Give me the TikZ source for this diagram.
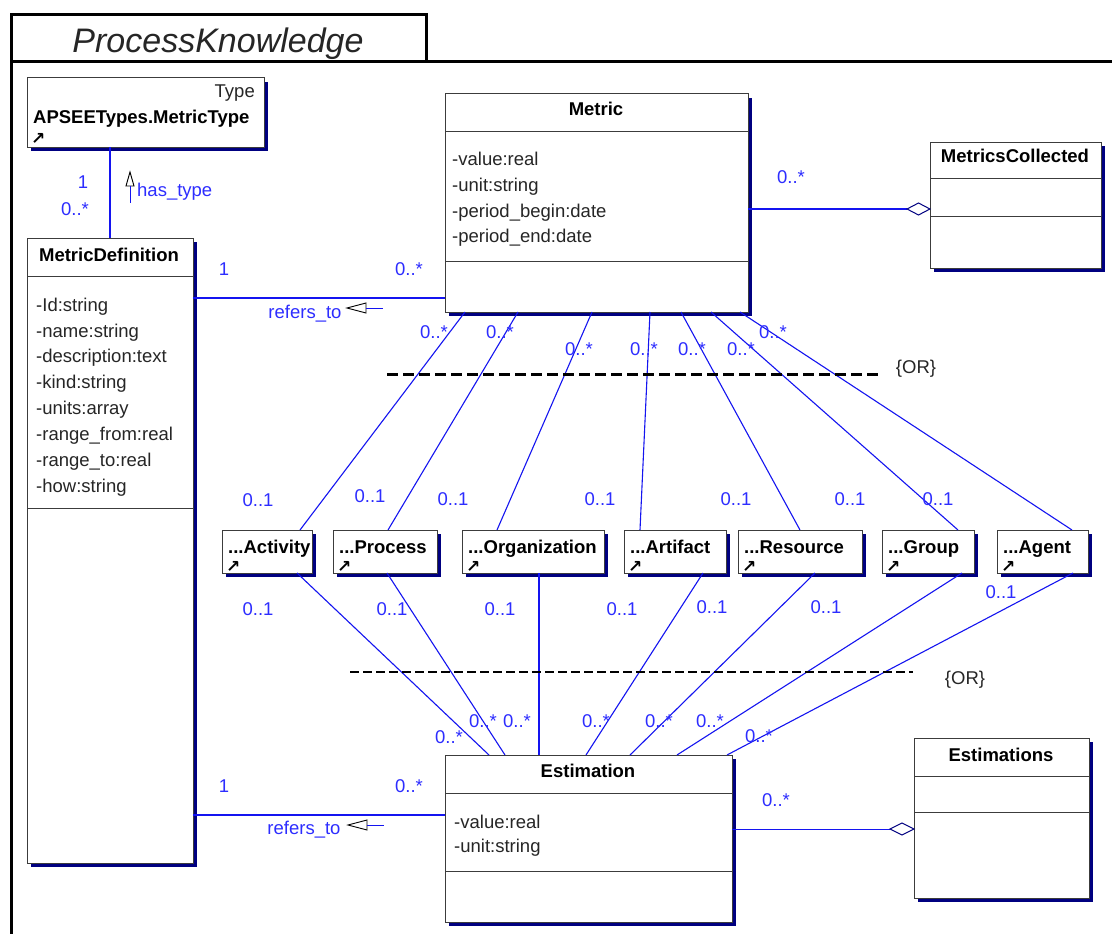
\documentclass[tikz,border=0pt]{standalone}
\usepackage{fontspec}
\setmainfont{Liberation Sans}
\newfontfamily\symfont{DejaVu Sans}
\usetikzlibrary{shadows}
\definecolor{lnblue}{RGB}{20,20,240}
\definecolor{lblblue}{RGB}{45,45,255}
\definecolor{shadownavy}{RGB}{0,0,128}
\definecolor{boxgray}{RGB}{60,60,60}
\begin{document}
\begin{tikzpicture}[x=1pt,y=-1pt,
  umlbox/.style={draw=boxgray, line width=1pt, fill=white, inner sep=0pt, outer sep=0pt, anchor=north west,
    general shadow={fill=shadownavy, shadow xshift=4pt, shadow yshift=-4pt}},
  sep/.style={draw=boxgray, line width=1pt},
  ttl/.style={font=\fontsize{18.5}{22}\selectfont\bfseries, inner sep=0pt, anchor=base},
  attr/.style={font=\fontsize{18.5}{22}\selectfont, inner sep=0pt, anchor=base west, text=black!85},
  lbl/.style={font=\fontsize{18.5}{22}\selectfont, inner sep=0pt, anchor=base, text=lblblue},
  assoc/.style={draw=lnblue, line width=1.3pt},
  link/.style={draw=lnblue, line width=1.1pt},
  scut/.style={font=\symfont\bfseries\fontsize{17}{17}\selectfont, inner sep=0pt, anchor=base west},
  dirtri/.style={draw=black, line width=0.9pt, fill=white},
  aggd/.style={draw=shadownavy, line width=1pt, fill=white}
]
\useasboundingbox (0,0) rectangle (1112,934);
\fill[white] (0,0) rectangle (1112,934);

% package frame
\draw[line width=3pt] (11,934) -- (11,15) -- (426,15) -- (426,62);
\draw[line width=3pt] (11,62) -- (1112,62);
\node[font=\fontsize{34}{40}\selectfont\itshape, inner sep=0pt, anchor=base, text=black!85] (pkg) at (218,53) {ProcessKnowledge};

% Type box
\node[umlbox, minimum width=237, minimum height=69] (type) at (27,78) {};
\node[attr, anchor=base east] (typest) at (255,98) {Type};
\node[ttl, anchor=base west] (typenm) at (33,124) {APSEETypes.MetricType};
\node[scut] (typesc) at (31,144) {↗};

% MetricDefinition
\node[umlbox, minimum width=166, minimum height=625] (mdef) at (27,238) {};
\draw[sep] (mdef.west |- 0,276) -- (mdef.east |- 0,276);
\draw[sep] (mdef.west |- 0,508) -- (mdef.east |- 0,508);
\node[ttl] (mdeft) at (109,261) {MetricDefinition};
\foreach \i/\y/\t in {1/311/-Id:string, 2/337/-name:string, 3/362/-description:text, 4/388/-kind:string,
  5/414/-units:array, 6/440/-range\_from:real, 7/466/-range\_to:real, 8/492/-how:string}
  \node[attr] (mda\i) at (36,\y) {\t};

% Metric
\node[umlbox, minimum width=303, minimum height=218] (metric) at (445,94) {};
\draw[sep] (metric.west |- 0,131) -- (metric.east |- 0,131);
\draw[sep] (metric.west |- 0,261) -- (metric.east |- 0,261);
\node[ttl] (metrict) at (596,115) {Metric};
\foreach \i/\y/\t in {1/165/-value:real, 2/191/-unit:string, 3/217/-period\_begin:date, 4/242/-period\_end:date}
  \node[attr] (ma\i) at (452,\y) {\t};

% MetricsCollected
\node[umlbox, minimum width=171, minimum height=126] (mc) at (930,142) {};
\draw[sep] (mc.west |- 0,178) -- (mc.east |- 0,178);
\draw[sep] (mc.west |- 0,216) -- (mc.east |- 0,216);
\node[ttl] (mct) at (1015,162) {MetricsCollected};

% Estimation
\node[umlbox, minimum width=287, minimum height=167] (est) at (445,755) {};
\draw[sep] (est.west |- 0,793) -- (est.east |- 0,793);
\draw[sep] (est.west |- 0,871) -- (est.east |- 0,871);
\node[ttl] (estt) at (588,777) {Estimation};
\node[attr] (esa1) at (454,828) {-value:real};
\node[attr] (esa2) at (454,852) {-unit:string};

% Estimations
\node[umlbox, minimum width=175, minimum height=160] (ests) at (914,738) {};
\draw[sep] (ests.west |- 0,776) -- (ests.east |- 0,776);
\draw[sep] (ests.west |- 0,812) -- (ests.east |- 0,812);
\node[ttl] (estst) at (1001,761) {Estimations};

% small boxes
\foreach \nm/\l/\r/\txt in {act/222/312/Activity, pro/333/437/Process, org/462/604/Organization,
  art/624/726/Artifact, res/738/862/Resource, grp/882/974/Group, agt/997/1088/Agent} {
  \node[umlbox, minimum width=\r-\l, minimum height=43] (\nm) at (\l,530) {};
  \node[ttl, anchor=base west] (\nm-t) at (\l+6,553) {...\txt};
  \node[scut] (\nm-s) at (\l+4,572) {↗};
}

% has_type association
\draw[assoc] (mdef.north |- type.south) -- (mdef.north);
\draw[dirtri] (130,172) -- (126,186) -- (134,186) -- cycle;
\draw[assoc, line width=1pt] (130,186) -- (130,203);
\node[lbl] (ht1) at (83,188) {1};
\node[lbl] (ht2) at (75,215) {0..*};
\node[lbl, anchor=base west] (ht3) at (137,196) {has\_type};

% refers_to (Metric)
\draw[assoc] (mdef.east |- 0,298) -- (metric.west |- 0,298);
\draw[dirtri] (347,308) -- (366,303) -- (366,313) -- cycle;
\draw[assoc, line width=1pt] (366,308) -- (383,308);
\node[lbl] (r1a) at (224,275) {1};
\node[lbl] (r1b) at (409,275) {0..*};
\node[lbl] (r1c) at (305,318) {refers\_to};

% refers_to (Estimation)
\draw[assoc] (mdef.east |- 0,815) -- (est.west |- 0,815);
\draw[dirtri] (348,825) -- (367,820) -- (367,830) -- cycle;
\draw[assoc, line width=1pt] (367,825) -- (384,825);
\node[lbl] (r2a) at (224,792) {1};
\node[lbl] (r2b) at (409,792) {0..*};
\node[lbl] (r2c) at (304,834) {refers\_to};

% aggregations
\coordinate (d1) at (mc.west |- 0,209);
\draw[assoc] (metric.east |- d1) -- ([xshift=-23pt]d1);
\draw[aggd] (d1) -- ++(-11.5,-6) -- ++(-11.5,6) -- ++(11.5,6) -- cycle;
\node[lbl] (ag1) at (791,183) {0..*};
\coordinate (d2) at (ests.west |- 0,829);
\draw[assoc, line width=1pt] (est.east |- d2) -- ([xshift=-24pt]d2);
\draw[aggd] (d2) -- ++(-12,-6) -- ++(-12,6) -- ++(12,6) -- cycle;
\node[lbl] (ag2) at (776,806) {0..*};

% links Metric -> small boxes
\foreach \bx/\xa/\xb in {act/465/300, pro/518/388, org/592/497, art/650/640, res/681/800, grp/711/958, agt/740/1072}
  \draw[link] (\xa,0 |- metric.south) -- (\xb,0 |- \bx.north);
% links small boxes -> Estimation
\foreach \bx/\xa/\xb in {act/297/489, pro/387/505, org/539/539, art/703/586, res/815/630, grp/962/677, agt/1073/727}
  \draw[link] (\xa,0 |- \bx.south) -- (\xb,0 |- est.north);

% multiplicities upper
\foreach \i/\x/\y in {1/434/338, 2/500/338, 3/579/355, 4/644/355, 5/692/355, 6/741/355, 7/773/338}
  \node[lbl] (um\i) at (\x,\y) {0..*};
\foreach \i/\x/\y in {1/258/506, 2/370/502, 3/453/505, 4/600/505, 5/736/505, 6/850/505, 7/938/505}
  \node[lbl] (uo\i) at (\x,\y) {0..1};
% multiplicities lower
\foreach \i/\x/\y in {1/258/615, 2/392/615, 3/500/615, 4/622/615, 5/712/613, 6/826/613, 7/1001/598}
  \node[lbl] (lo\i) at (\x,\y) {0..1};
\foreach \i/\x/\y in {1/449/743, 2/483/727, 3/517/727, 4/596/727, 5/659/727, 6/710/727, 7/759/742}
  \node[lbl] (lm\i) at (\x,\y) {0..*};

% OR constraints
\coordinate (or1a) at (387,374);
\coordinate (or1b) at (882,374);
\draw[line width=3pt, dash pattern=on 11pt off 5pt] (or1a) -- (or1b);
\node[attr, anchor=center] (or1) at (916,369) {\{OR\}};
\coordinate (or2a) at (350,672);
\coordinate (or2b) at (913,672);
\draw[line width=1.3pt, dash pattern=on 9pt off 4pt] (or2a) -- (or2b);
\node[attr, anchor=center] (or2) at (965,680) {\{OR\}};
\end{tikzpicture}
\end{document}
